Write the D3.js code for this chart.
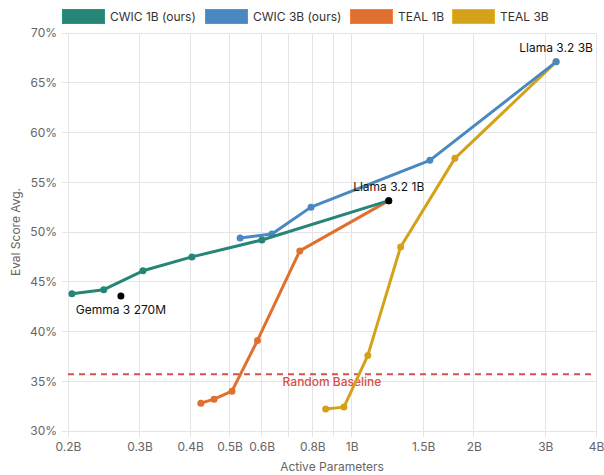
<!DOCTYPE html>
<html><head><meta charset="utf-8">
<script src="https://cdn.jsdelivr.net/npm/d3@7"></script>
<style>body{margin:0;background:#fff;}svg{display:block;font-family:Inter,"Noto Sans",sans-serif;}</style>
</head><body><svg id="c" width="604" height="475"></svg>
<script>
const seriesNames = ["CWIC 1B (ours)", "CWIC 3B (ours)", "TEAL 1B", "TEAL 3B"];
const seriesColors = ["#268577", "#4a88c2", "#e0702f", "#d4a21a"];
const cwic1bParams = [0.2045, 0.245, 0.306, 0.404, 0.601, 1.234];
const cwic1bScore  = [43.8, 44.2, 46.1, 47.5, 49.2, 53.15];
const cwic3bParams = [0.531, 0.636, 0.794, 1.558, 3.19];
const cwic3bScore  = [49.4, 49.8, 52.5, 57.2, 67.1];
const teal1bParams = [0.425, 0.458, 0.507, 0.586, 0.745, 1.234];
const teal1bScore  = [32.8, 33.2, 34.0, 39.1, 48.1, 53.15];
const teal3bParams = [0.863, 0.957, 1.096, 1.32, 1.796, 3.19];
const teal3bScore  = [32.2, 32.4, 37.6, 48.5, 57.4, 67.1];
const refNames  = ["Gemma 3 270M", "Llama 3.2 1B", "Llama 3.2 3B"];
const refParams = [0.27, 1.234, 3.19];
const refScore  = [43.57, 53.15, 67.1];
const refDot    = [true, true, false];
const refLabelBelow = [true, false, false];
const baselineValue = 35.7;
const baselineLabel = "Random Baseline";
const xTicks = [0.2, 0.3, 0.4, 0.5, 0.6, 0.7, 0.8, 0.9, 1, 1.5, 2, 3, 4];
const xTickLabels = ["0.2B","0.3B","0.4B","0.5B","0.6B","","0.8B","","1B","1.5B","2B","3B","4B"];
const yTicks = [30, 35, 40, 45, 50, 55, 60, 65, 70];
const xTitle = "Active Parameters";
const yTitle = "Eval Score Avg.";

const svg = d3.select("#c");
const L = 68, R = 596, T = 33, B = 431;
const x = d3.scaleLog().domain([0.2, 4]).range([L, R]);
const y = d3.scaleLinear().domain([30, 70]).range([B, T]);

// grid
const grid = svg.append("g");
grid.selectAll("line.v").data(xTicks).enter().append("line")
  .attr("x1", d => x(d)).attr("x2", d => x(d)).attr("y1", T).attr("y2", B + 6)
  .attr("stroke", "#e4e4e4").attr("stroke-width", 1).attr("shape-rendering", "crispEdges");
grid.selectAll("line.h").data(yTicks).enter().append("line")
  .attr("x1", L - 6).attr("x2", R).attr("y1", d => y(d)).attr("y2", d => y(d))
  .attr("stroke", "#e4e4e4").attr("stroke-width", 1).attr("shape-rendering", "crispEdges");

// axes via d3
const xAxis = d3.axisBottom(x).tickValues(xTicks).tickSize(0).tickPadding(11)
  .tickFormat((d, i) => xTickLabels[i]);
const gx = svg.append("g").attr("transform", `translate(0,${B})`).call(xAxis);
gx.select(".domain").remove();
gx.selectAll("text").attr("fill", "#666").style("font-size", "12px").style("font-family", "Inter, sans-serif");

const yAxis = d3.axisLeft(y).tickValues(yTicks).tickSize(0).tickPadding(11)
  .tickFormat(d => d + "%");
const gy = svg.append("g").attr("transform", `translate(${L},0)`).call(yAxis);
gy.select(".domain").remove();
gy.selectAll("text").attr("fill", "#666").style("font-size", "12px").style("font-family", "Inter, sans-serif");

// titles
svg.append("text").attr("x", (L + R) / 2).attr("y", 471).attr("text-anchor", "middle")
  .attr("fill", "#666").style("font-size", "12px").text(xTitle);
svg.append("text").attr("transform", `translate(20,${(T + B) / 2}) rotate(-90)`).attr("text-anchor", "middle")
  .attr("fill", "#666").style("font-size", "12px").text(yTitle);

// baseline
svg.append("line").attr("x1", L).attr("x2", R).attr("y1", y(baselineValue)).attr("y2", y(baselineValue))
  .attr("stroke", "#d6504b").attr("stroke-width", 2).attr("stroke-dasharray", "6,5");
svg.append("text").attr("x", (L + R) / 2).attr("y", y(baselineValue) + 12).attr("text-anchor", "middle")
  .attr("fill", "#d6504b").style("font-size", "12px").style("font-weight", "500").text(baselineLabel);

// series
const series = [
  {p: cwic1bParams, s: cwic1bScore, c: seriesColors[0]},
  {p: cwic3bParams, s: cwic3bScore, c: seriesColors[1]},
  {p: teal1bParams, s: teal1bScore, c: seriesColors[2]},
  {p: teal3bParams, s: teal3bScore, c: seriesColors[3]},
];
const line = d3.line().x(d => x(d[0])).y(d => y(d[1]));
series.slice().reverse().forEach(se => {
  const pts = se.p.map((v, i) => [v, se.s[i]]);
  const g = svg.append("g");
  g.append("path").datum(pts).attr("d", line).attr("fill", "none")
    .attr("stroke", se.c).attr("stroke-width", 3).attr("stroke-linejoin", "round");
  g.selectAll("circle").data(pts).enter().append("circle")
    .attr("cx", d => x(d[0])).attr("cy", d => y(d[1])).attr("r", 3.5).attr("fill", se.c);
});

// reference models
refNames.forEach((n, i) => {
  if (refDot[i]) svg.append("circle").attr("cx", x(refParams[i])).attr("cy", y(refScore[i])).attr("r", 3.5).attr("fill", "#000");
  svg.append("text").attr("x", x(refParams[i]))
    .attr("y", refLabelBelow[i] ? y(refScore[i]) + 18 : y(refScore[i]) - 10)
    .attr("text-anchor", "middle").attr("fill", "#111").style("font-size", "12px").text(n);
});

// legend
const legX = [62, 205, 350, 452];
seriesNames.forEach((n, i) => {
  svg.append("rect").attr("x", legX[i] + 0.5).attr("y", 9.5).attr("width", 42).attr("height", 14)
    .attr("fill", seriesColors[i]).attr("stroke", d3.color(seriesColors[i]).brighter(0.3)).attr("stroke-width", 1);
  svg.append("text").attr("x", legX[i] + 48).attr("y", 21).attr("fill", "#333")
    .style("font-size", "12px").text(n);
});
</script></body></html>
